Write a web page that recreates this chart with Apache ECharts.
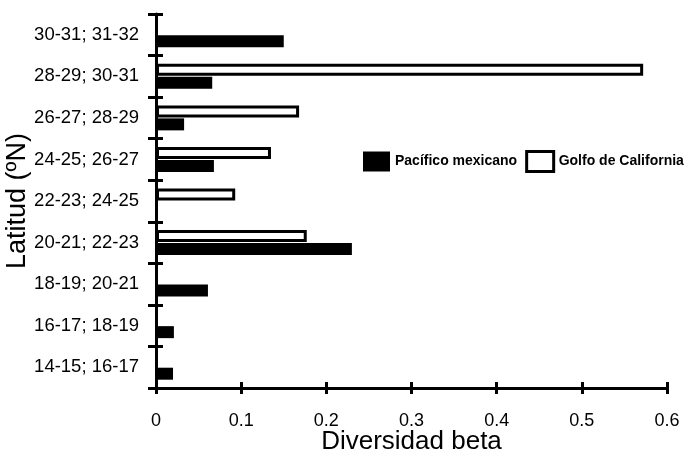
<!DOCTYPE html>
<html>
<head>
<meta charset="utf-8">
<script src="https://cdn.jsdelivr.net/npm/echarts@6/dist/echarts.min.js"></script>
<style>html,body{margin:0;padding:0;background:#fff}#c{width:689px;height:458px}</style>
</head>
<body>
<div id="c"></div>
<script>
// Categories listed bottom to top
var categories = ['14-15; 16-17','16-17; 18-19','18-19; 20-21','20-21; 22-23','22-23; 24-25','24-25; 26-27','26-27; 28-29','28-29; 30-31','30-31; 31-32'];
var pacifico = [0.020, 0.021, 0.061, 0.230, null, 0.068, 0.033, 0.066, 0.150];
var golfo = [null, null, null, 0.177, 0.093, 0.135, 0.168, 0.572, null];
var xTicks = [0, 0.1, 0.2, 0.3, 0.4, 0.5, 0.6];

var FONT = 'Liberation Sans, Arial, sans-serif';
var chart = echarts.init(document.getElementById('c'));
chart.setOption({
  animation: false,
  backgroundColor: '#fff',
  grid: {left: 156, right: 22, top: 14, bottom: 70, containLabel: false, outerBoundsMode: 'none'},
  legend: {
    left: 363, top: 150, padding: 0, width: 330,
    itemWidth: 27, itemHeight: 20, itemGap: 8,
    icon: 'rect',
    textStyle: {fontFamily: FONT, fontSize: 14, fontWeight: 'bold', color: '#000'},
    data: [
      {name: 'Pacífico mexicano', itemStyle: {color: '#000', borderWidth: 0}},
      {name: 'Golfo de California', itemStyle: {color: '#fff', borderColor: '#000', borderWidth: 3}}
    ]
  },
  xAxis: [{
    type: 'value', min: xTicks[0], max: xTicks[xTicks.length-1], interval: 0.1,
    name: 'Diversidad beta', nameLocation: 'middle', nameGap: 41, nameMoveOverlap: false,
    nameTextStyle: {fontFamily: FONT, fontSize: 26, color: '#000'},
    axisLine: {show: true, lineStyle: {color: '#000', width: 3}},
    axisTick: {show: true, length: 6, lineStyle: {color: '#000', width: 3}},
    axisLabel: {fontFamily: FONT, fontSize: 18, color: '#000', margin: 24,
      formatter: function(v){ return v === 0 ? '0' : String(Math.round(v*10)/10); }},
    splitLine: {show: false}
  }, {
    type: 'value', min: xTicks[0], max: xTicks[xTicks.length-1], interval: 0.1, position: 'bottom',
    axisLine: {show: false},
    axisTick: {show: true, inside: true, length: 6, lineStyle: {color: '#000', width: 3}},
    axisLabel: {show: false}, splitLine: {show: false}
  }],
  yAxis: [{
    type: 'category', data: categories,
    name: 'Latitud (ºN)', nameLocation: 'middle', nameGap: 125, nameRotate: 90, nameMoveOverlap: false,
    nameTextStyle: {fontFamily: FONT, fontSize: 27, color: '#000'},
    axisLine: {show: true, lineStyle: {color: '#000', width: 3}},
    axisTick: {show: true, length: 8, lineStyle: {color: '#000', width: 3}},
    axisLabel: {fontFamily: FONT, fontSize: 18.5, color: '#000', margin: 17}
  }, {
    type: 'category', data: categories, position: 'left',
    axisLine: {show: false},
    axisTick: {show: true, inside: true, length: 7, lineStyle: {color: '#000', width: 3}},
    axisLabel: {show: false}
  }],
  series: [{
    name: 'Golfo de California', type: 'bar', data: golfo, xAxisIndex: 0, yAxisIndex: 0,
    barWidth: 12, barGap: '8%',
    itemStyle: {color: '#fff', borderColor: '#000', borderWidth: 3}
  }, {
    name: 'Pacífico mexicano', type: 'bar', data: pacifico, xAxisIndex: 0, yAxisIndex: 0,
    barWidth: 12, barGap: '8%',
    itemStyle: {color: '#000'}
  }]
});
</script>
</body>
</html>
